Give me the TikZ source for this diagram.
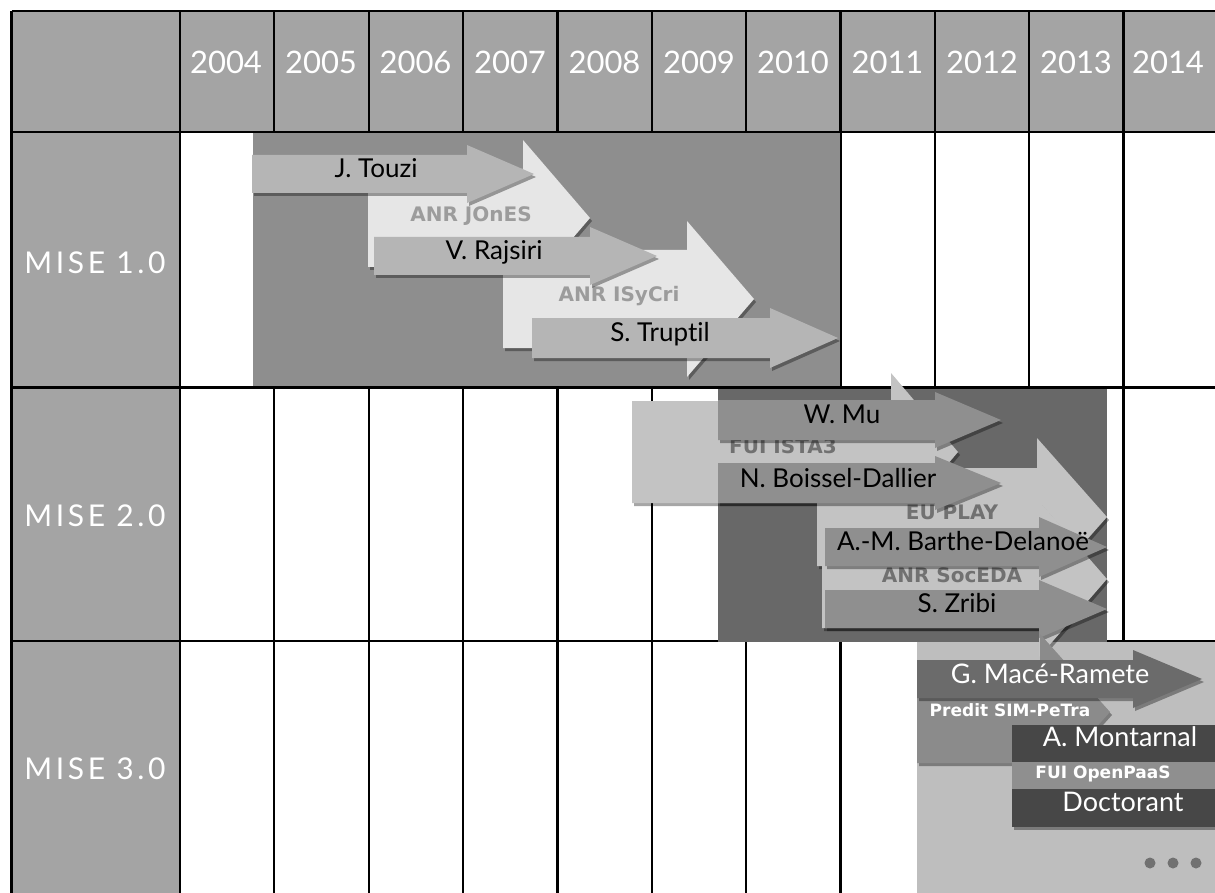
\documentclass[tikz,border=0pt]{standalone}
\usepackage{fontspec}
\setmainfont{Lato}[Ligatures=NoCommon]
\newfontfamily\grantfont{DejaVu Sans}
\usetikzlibrary{shadows}

\definecolor{hdrgrey}{HTML}{A4A4A4}
\definecolor{phaseone}{HTML}{8E8E8E}
\definecolor{phasetwo}{HTML}{686868}
\definecolor{phasethree}{HTML}{BEBEBE}
\definecolor{paleproj}{HTML}{E6E6E6}
\definecolor{lightproj}{HTML}{C3C3C3}
\definecolor{midproj}{HTML}{B5B5B5}
\definecolor{greyproj}{HTML}{8F8F8F}
\definecolor{darkproj}{HTML}{6B6B6B}
\definecolor{thesisbox}{HTML}{474747}
\definecolor{grantpale}{HTML}{9C9C9C}
\definecolor{grantdark}{HTML}{717171}

% arrow: style, x start, x head base, x tip, y centre, half body, half head
\newcommand{\projarrow}[7]{%
  \fill[#1] (#2,#5-#6) -- (#3,#5-#6) -- (#3,#5-#7) -- (#4,#5) -- (#3,#5+#7) -- (#3,#5+#6) -- (#2,#5+#6) -- cycle;}

\tikzset{
  gridline/.style={line width=2.2pt, black},
  shade/.style={drop shadow={shadow xshift=2pt, shadow yshift=-3pt, opacity=0.35, fill=black}},
  yearlbl/.style={text=white, inner sep=0pt, text height=0.72em, text depth=0pt, font=\fontsize{31}{36}\selectfont},
  phase/.style={text=white, inner sep=0pt, text height=0.72em, text depth=0pt, font=\fontsize{30}{36}\selectfont\addfontfeatures{LetterSpace=12}},
  person/.style={text=black, inner sep=0pt, text height=0.72em, text depth=0pt, font=\fontsize{26}{30}\selectfont},
  personw/.style={person, text=white, font=\fontsize{27}{32}\selectfont},
  grant/.style={inner sep=0pt, text height=0.73em, text depth=0pt, font=\grantfont\bfseries\fontsize{20}{24}\selectfont},
  grantw/.style={grant, text=white, font=\grantfont\bfseries\fontsize{17}{20}\selectfont}
}

\begin{document}
\begin{tikzpicture}[x=1pt, y=-1pt]
    \useasboundingbox (0,0) rectangle (1215,893);
    \fill[white] (0,0) rectangle (1215,893);

    % header and phase column
    \fill[hdrgrey] (11.5,10.7) rectangle (1218,131.7);
    \fill[hdrgrey] (11.5,131.7) rectangle (180,900);

    % grid
    \draw[gridline] (11.5,10.7) -- (11.5,900);
    \draw[gridline] (180,10.7) -- (180,900);
    \draw[gridline] (274.35,10.7) -- (274.35,900);
    \draw[gridline] (368.7,10.7) -- (368.7,900);
    \draw[gridline] (463.05,10.7) -- (463.05,900);
    \draw[gridline] (557.4,10.7) -- (557.4,900);
    \draw[gridline] (651.75,10.7) -- (651.75,900);
    \draw[gridline] (746.1,10.7) -- (746.1,900);
    \draw[gridline] (840.45,10.7) -- (840.45,900);
    \draw[gridline] (934.8,10.7) -- (934.8,900);
    \draw[gridline] (1029.15,10.7) -- (1029.15,900);
    \draw[gridline] (1123.5,10.7) -- (1123.5,900);
    \draw[gridline] (1217.85,10.7) -- (1217.85,900);
    \draw[gridline] (11.5,10.7) -- (1218,10.7);
    \draw[gridline] (11.5,131.7) -- (1218,131.7);
    \draw[gridline] (11.5,387.5) -- (1218,387.5);
    \draw[gridline] (11.5,641) -- (1218,641);

    % phase backgrounds
    \fill[phaseone] (253,133) rectangle (840,386);
    \fill[phasetwo] (718,389) rectangle (1107,642);
    \fill[phasethree] (917,642) rectangle (1218,893);

    % years
    \node[yearlbl] (y2004) at (226,70) {2004};
    \node[yearlbl] (y2005) at (321,70) {2005};
    \node[yearlbl] (y2006) at (415.5,70) {2006};
    \node[yearlbl] (y2007) at (510,70) {2007};
    \node[yearlbl] (y2008) at (604.5,70) {2008};
    \node[yearlbl] (y2009) at (699,70) {2009};
    \node[yearlbl] (y2010) at (793,70) {2010};
    \node[yearlbl] (y2011) at (887.5,70) {2011};
    \node[yearlbl] (y2012) at (982,70) {2012};
    \node[yearlbl] (y2013) at (1076,70) {2013};
    \node[yearlbl] (y2014) at (1168,70) {2014};

    % phases
    \node[phase] (mise1) at (95,270) {MISE 1.0};
    \node[phase] (mise2) at (95,523) {MISE 2.0};
    \node[phase] (mise3) at (95,776) {MISE 3.0};

    % MISE 1.0
    \projarrow{paleproj, shade}{368}{523}{590}{218}{49}{78}
    \projarrow{paleproj, shade}{503}{687}{754}{299}{49}{78}
    \node[grant, text=grantpale] (jones) at (471,218) {ANR JOnES};
    \node[grant, text=grantpale] (isycri) at (619,298) {ANR ISyCri};
    \projarrow{midproj, shade}{252}{467}{534}{174}{19}{29}
    \projarrow{midproj, shade}{374}{590}{657}{256}{19}{29}
    \projarrow{midproj, shade}{532}{770}{838}{338}{20}{30}
    \node[person] (touzi) at (376,174) {J. Touzi};
    \node[person] (rajsiri) at (494,256) {V. Rajsiri};
    \node[person] (truptil) at (660,338) {S. Truptil};

    % MISE 2.0
    \projarrow{lightproj, shade}{632}{891}{958}{452}{51}{79}
    \projarrow{lightproj, shade}{817}{1037}{1107}{517}{49}{79}
    \projarrow{lightproj, shade}{822}{1039}{1107}{579}{49}{78}
    \node[grant, text=grantdark] (ista) at (783,450) {FUI ISTA3};
    \node[grant, text=grantdark] (play) at (952,516) {EU PLAY};
    \node[grant, text=grantdark] (soceda) at (952,579) {ANR SocEDA};
    \projarrow{greyproj, shade}{718}{935}{1001}{420}{20}{28}
    \projarrow{greyproj, shade}{718}{935}{1001}{483}{20}{27}
    \projarrow{greyproj, shade}{825}{1039}{1107}{547}{19}{30}
    \projarrow{greyproj, shade}{825}{1039}{1107}{609}{19}{29}
    \node[person] (mu) at (842,420) {W. Mu};
    \node[person] (boissel) at (838,484) {N. Boissel-Dallier};
    \node[person] (barthe) at (963,547) {A.-M. Barthe-Delanoë};
    \node[person] (zribi) at (957,609) {S. Zribi};

    % MISE 3.0
    \projarrow{greyproj!97!black, shade}{917}{1040}{1110}{712}{51}{78}
    \projarrow{darkproj, shade}{917}{1133}{1202}{679}{19}{29}
    \node[personw] (mace) at (1050,680) {G. Macé-Ramete};
    \node[grantw] (petra) at (1010,713) {Predit SIM-PeTra};
    \fill[thesisbox, shade] (1012,725) rectangle (1220,762);
    \fill[greyproj, shade] (1012,762) rectangle (1220,789);
    \fill[thesisbox, shade] (1012,789) rectangle (1220,827);
    \node[personw] (montarnal) at (1120,743) {A. Montarnal};
    \node[grantw] (openpaas) at (1103,775) {FUI OpenPaaS};
    \node[personw] (doct) at (1123,808) {Doctorant};
    \fill[grantdark] (1150,863) circle (5.5);
    \fill[grantdark] (1173,863) circle (5.5);
    \fill[grantdark] (1196,863) circle (5.5);

\end{tikzpicture}
\end{document}
